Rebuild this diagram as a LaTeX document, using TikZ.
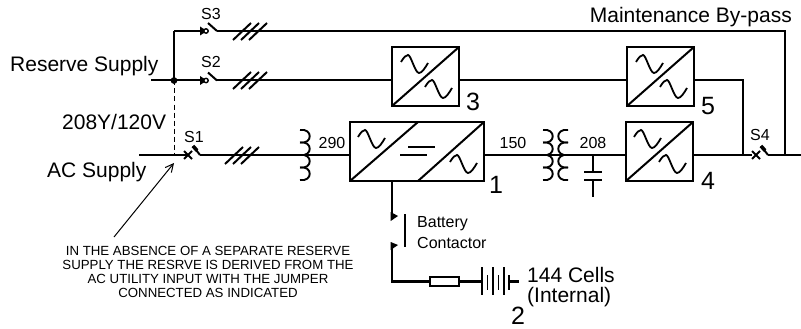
\documentclass[tikz,border=0pt]{standalone}
\usepackage{fontspec}
\setmainfont{Liberation Sans}
\usetikzlibrary{arrows.meta}
\tikzset{
wire/.style={line width=2pt},
busbar/.style={line width=2.7pt},
thinwire/.style={line width=1pt},
convbox/.style={draw,line width=2pt,fill=white,outer sep=0pt,inner sep=0pt},
biglabel/.style={font=\fontsize{21}{24}\selectfont,inner sep=0pt},
numlabel/.style={font=\fontsize{25}{28}\selectfont,inner sep=0pt},
smalllabel/.style={font=\fontsize{16}{19}\selectfont,inner sep=0pt},
notelabel/.style={font=\fontsize{13.25}{14}\selectfont,inner sep=0pt,align=center},
acwave/.pic={\draw[line width=1.8pt] (0,7) .. controls (3,2) and (5,0) .. (7,0) .. controls (10,0) and (14,18) .. (18,18) .. controls (21,18) and (24,13) .. (27,8);},
coil/.pic={\foreach \i in {0,1,2,3}{\draw[line width=1.9pt] (0,12.5*\i) .. controls (13,12.5*\i-2) and (13,12.5*\i+14.5) .. (0,12.5*\i+12.5);}},
hatch/.pic={\foreach \i in {0,8,16}{\draw[wire] (\i,8.5) -- (\i+18,-8.5);}},
opencontact/.pic={\fill (-7,-4.5) -- (0,0) -- (-7,4.5) -- cycle;\draw[line width=1.4pt,fill=white] (-1,0) circle (2.2);\draw[wire] (1,-8) -- (10,0);},
xcontact/.pic={\draw[line width=2pt] (-4,-4) -- (4,4) (-4,4) -- (4,-4);\draw[wire] (12,0) -- (5,-9);\draw[line width=3.6pt] (9,-4.5) -- (5,-9);},
}
\begin{document}
\begin{tikzpicture}[x=1pt,y=-1pt]
\useasboundingbox (0,0) rectangle (801,329);
\node[convbox,minimum width=134pt,minimum height=59pt] (box1) at (417,151.5) {};
\node[convbox,minimum width=67pt,minimum height=59pt] (box3) at (425.5,76.5) {};
\node[convbox,minimum width=67pt,minimum height=59pt] (box4) at (659.5,151.5) {};
\node[convbox,minimum width=67pt,minimum height=59pt] (box5) at (660.5,76.5) {};
\node[convbox,minimum width=29pt,minimum height=9pt] (fuse) at (444.5,281.5) {};
\coordinate (topwest) at (174,31);
\coordinate (junction) at (174,80.5);
\coordinate (reservein) at (151,80.5);
\coordinate (jumperend) at (174,155);
\coordinate (acin) at (139,155);
\coordinate (s3) at (207,31);
\coordinate (s2) at (207,80.5);
\coordinate (s1) at (188,155);
\coordinate (s4) at (756,155);
\coordinate (bypasscorner) at (785,31);
\coordinate (bypassend) at (785,155);
\coordinate (outend) at (801,155);
\coordinate (fivecorner) at (743,80.5);
\coordinate (fivedown) at (743,155);
\coordinate (capnode) at (593,155);
\coordinate (capplatea) at (593,172);
\coordinate (capplateb) at (593,180);
\coordinate (capend) at (593,197);
\coordinate (contacta) at (392,213);
\coordinate (contactb) at (392,243);
\coordinate (batcorner) at (392,281.5);
\coordinate (batplate) at (482,281.5);
\coordinate (batend) at (519,281.5);
\coordinate (notetip) at (174,163);
\coordinate (notetail) at (114,237);

\draw[busbar] (topwest) -- (junction);
\draw[wire] (topwest) -- (s3);
\draw[wire] (reservein) -- (s2);
\fill (junction) circle (3.4);
\draw[thinwire,dash pattern=on 5pt off 3pt] (junction) -- (jumperend);
\draw[busbar] (acin) -- (s1);
\draw[wire] (217,31) -- (bypasscorner) -- (bypassend);
\draw[wire] (217,80.5) -- (box3.west |- junction);
\draw[wire] (box3.east |- junction) -- (box5.west |- junction);
\draw[wire] (box5.east |- junction) -- (fivecorner) -- (fivedown);
\draw[wire] (200,155) -- (box1.west |- s1);
\draw[wire] (box1.east |- s1) -- (box4.west |- s1);
\draw[wire] (box4.east |- s1) -- (752,155);
\draw[wire] (768,155) -- (outend);
\draw[wire] (capnode) -- (capplatea);
\draw[wire] (capplateb) -- (capend);
\draw[busbar] (584,172) -- (602,172);
\draw[busbar] (584,180) -- (602,180);
\draw[busbar] (box1.south -| contacta) -- (contacta);
\draw[busbar] (contactb) -- (batcorner) -- (fuse.west);
\draw[busbar] (fuse.east) -- (batplate);
\draw[busbar] (509,281.5) -- (batend);
\fill (390.7,212) -- (398,216) -- (390.7,221) -- cycle;
\fill (390.7,242) -- (398,245) -- (390.7,250) -- cycle;
\draw[busbar] (405,214) -- (405,247);
\draw[wire] (482,267) -- (482,295);
\draw[thinwire] (487,275) -- (487,290);
\draw[wire] (493,267) -- (493,295);
\draw[thinwire] (498,275) -- (498,290);
\draw[wire] (504,267) -- (504,295);
\draw[wire] (509,275) -- (509,290);

\draw[wire] (box1.south west) -- (418,122);
\draw[wire] (418,181) -- (box1.north east);
\draw[wire] (408,147) -- (435,147);
\draw[wire] (400,155) -- (427,155);
\draw[wire] (box3.south west) -- (box3.north east);
\draw[wire] (box4.south west) -- (box4.north east);
\draw[wire] (box5.south west) -- (box5.north east);
\pic at (358,130) {acwave};
\pic at (450,155) {acwave};
\pic at (401,55) {acwave};
\pic at (425,80) {acwave};
\pic at (634,130) {acwave};
\pic at (659,155) {acwave};
\pic at (636,55) {acwave};
\pic at (660,80) {acwave};
\pic at (300,130) {coil};
\pic at (543,130) {coil};
\pic[xscale=-1] at (568,130) {coil};
\pic at (233,31.5) {hatch};
\pic at (233,80.5) {hatch};
\pic at (225,155.5) {hatch};
\pic at (s3) {opencontact};
\pic at (s2) {opencontact};
\pic at (s1) {xcontact};
\pic at (s4) {xcontact};

\node[biglabel,anchor=west] (reservelabel) at (10,66) {Reserve Supply};
\node[biglabel,anchor=west] (voltlabel) at (62,122) {208Y/120V};
\node[biglabel,anchor=west] (aclabel) at (47,172) {AC Supply};
\node[biglabel,anchor=east] (bypasslabel) at (792,17) {Maintenance By-pass};
\node[biglabel,anchor=west] (cellslabel) at (527,275) {144 Cells};
\node[biglabel,anchor=west] (internallabel) at (527,297) {(Internal)};
\node[smalllabel] (s3label) at (211,14) {S3};
\node[smalllabel] (s2label) at (211,62) {S2};
\node[smalllabel] (s1label) at (194,137) {S1};
\node[smalllabel] (s4label) at (760,135) {S4};
\node[smalllabel] (lvla) at (332,143) {290};
\node[smalllabel] (lvlb) at (513,143) {150};
\node[smalllabel] (lvlc) at (593,143) {208};
\node[smalllabel,anchor=west] (batlabel) at (417,224) {Battery};
\node[smalllabel,anchor=west] (contlabel) at (417,243) {Contactor};
\node[numlabel] (num1) at (496,185) {1};
\node[numlabel] (num2) at (518,316) {2};
\node[numlabel] (num3) at (473,102) {3};
\node[numlabel] (num4) at (708,181) {4};
\node[numlabel] (num5) at (708,106) {5};
\node[notelabel] (note) at (208,272) {IN THE ABSENCE OF A SEPARATE RESERVE\\SUPPLY THE RESRVE IS DERIVED FROM THE\\AC UTILITY INPUT WITH THE JUMPER\\CONNECTED AS INDICATED};
\draw[thinwire,-{Straight Barb[length=8pt,width=8pt]}] (notetail) -- (notetip);
\end{tikzpicture}
\end{document}
